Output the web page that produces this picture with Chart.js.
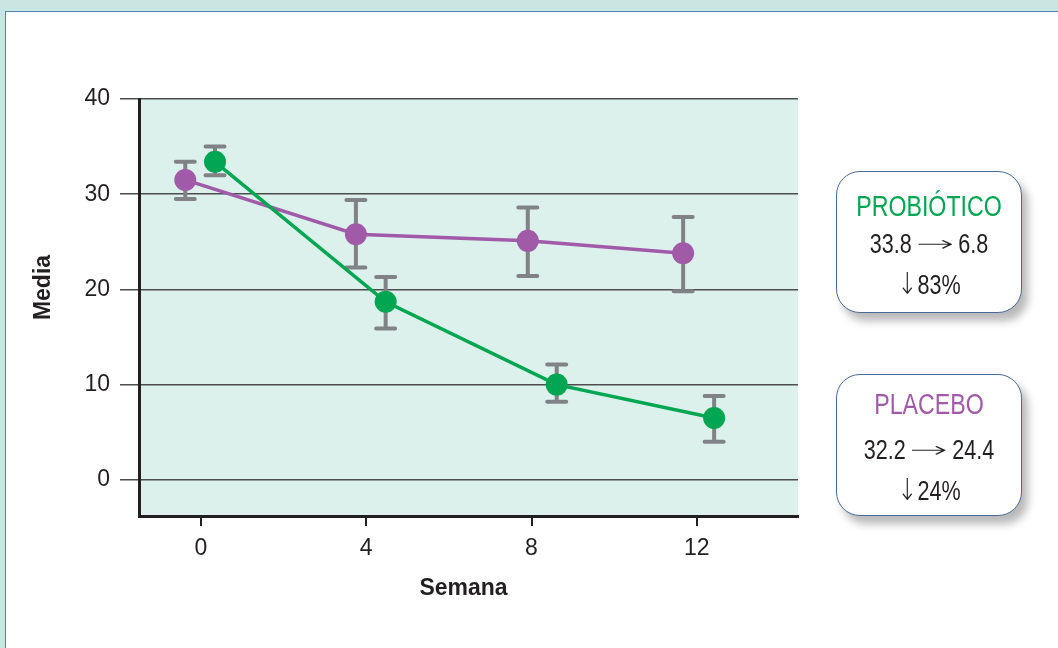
<!DOCTYPE html>
<html>
<head>
<meta charset="utf-8">
<script src="https://cdn.jsdelivr.net/npm/chart.js@4.4.1/dist/chart.umd.min.js"></script>
<style>
  body { margin: 0; background: #c9e6e3; width: 1058px; height: 648px; overflow: hidden; position: relative; }
  #panel { position: absolute; left: 5px; top: 11px; width: 1100px; height: 700px; background: #fff; border: 1.5px solid #5a7fa8; }
  #chartContainer { position: absolute; left: 0; top: 0; }
  .box { position: absolute; left: 836px; width: 186px; height: 142px; box-sizing: border-box;
         border: 1.5px solid #4a6b98; border-radius: 24px; background: #fff;
         box-shadow: 6px 8px 8px rgba(0,0,0,0.28); text-align: center; color: #231f20;
         font-family: "Liberation Sans", Arial, sans-serif; }
  .box div { transform: scaleX(0.8); white-space: nowrap; }
  .box .t { font-size: 29px; line-height: 38px; }
  .box .v { font-size: 27px; line-height: 38px; }
  .box .ar { display: inline-block; width: 58px; position: relative; top: -2px; font-family: "DejaVu Sans", sans-serif; font-weight: 200; font-size: 22px; transform: scaleX(2.6); }
  .box .dn { font-family: "DejaVu Sans", sans-serif; font-weight: 200; font-size: 30px; }
  #boxPro { top: 171px; padding-top: 15px; }
  #boxPla { top: 374px; padding-top: 10px; }
  #boxPro .t { color: #00a651; }
  #boxPla .t { color: #a05aa8; }
  #boxPla .v1 { margin-top: 8px; }
</style>
</head>
<body>
<div id="panel"></div>
<canvas id="chartContainer" width="1058" height="648"></canvas>
<div class="box" id="boxPro">
  <div class="t">PROBIÓTICO</div>
  <div class="v">33.8<span class="ar">→</span>6.8</div>
  <div class="v"><span class="dn">↓</span>83%</div>
</div>
<div class="box" id="boxPla">
  <div class="t">PLACEBO</div>
  <div class="v v1">32.2<span class="ar">→</span>24.4</div>
  <div class="v"><span class="dn">↓</span>24%</div>
</div>
<script>
// weeks shown on the x axis
var weekTicks = [0, 4, 8, 12];
var valueTicks = [0, 10, 20, 30, 40];

// probiotic group (green), points are drawn slightly right of each week
var probioticoX = [0.34, 4.47, 8.61, 12.42];
var probioticoMean = [33.4, 18.7, 10.0, 6.5];
var probioticoLow = [32.0, 15.9, 8.2, 4.0];
var probioticoHigh = [35.0, 21.3, 12.1, 8.8];

// placebo group (purple), points slightly left of each week
var placeboX = [-0.38, 3.75, 7.91, 11.67];
var placeboMean = [31.5, 25.8, 25.1, 23.8];
var placeboLow = [29.5, 22.3, 21.4, 19.8];
var placeboHigh = [33.4, 29.4, 28.6, 27.6];

function toPoints(xs, ys) {
  return xs.map(function (x, i) { return { x: x, y: ys[i] }; });
}

var textColor = '#231f20';
var tickFont = { family: '"Liberation Sans", Arial, sans-serif', size: 23 };

// plot background
var plotBackground = {
  id: 'plotBackground',
  beforeDraw: function (chart) {
    var a = chart.chartArea, ctx = chart.ctx;
    ctx.save();
    ctx.fillStyle = '#dcf0ec';
    ctx.fillRect(a.left, a.top, a.right - a.left, a.bottom - a.top);
    ctx.restore();
  }
};

// vertical error bars with caps, drawn under the points
var errorBars = {
  id: 'errorBars',
  beforeDatasetsDraw: function (chart) {
    var ctx = chart.ctx, xs = chart.scales.x, ys = chart.scales.y;
    ctx.save();
    ctx.strokeStyle = '#808285';
    ctx.lineWidth = 4;
    ctx.lineCap = 'round';
    chart.data.datasets.forEach(function (ds) {
      ds.data.forEach(function (p, i) {
        var px = xs.getPixelForValue(p.x);
        var top = ys.getPixelForValue(ds.errHigh[i]);
        var bot = ys.getPixelForValue(ds.errLow[i]);
        ctx.beginPath();
        ctx.moveTo(px, top); ctx.lineTo(px, bot);
        ctx.moveTo(px - 9.5, top); ctx.lineTo(px + 9.5, top);
        ctx.moveTo(px - 9.5, bot); ctx.lineTo(px + 9.5, bot);
        ctx.stroke();
      });
    });
    ctx.restore();
  }
};

// axis titles
var axisTitles = {
  id: 'axisTitles',
  afterDraw: function (chart) {
    var a = chart.chartArea, ctx = chart.ctx;
    ctx.save();
    ctx.fillStyle = textColor;
    ctx.font = 'bold 23px "Liberation Sans", Arial, sans-serif';
    ctx.textAlign = 'center';
    ctx.textBaseline = 'middle';
    ctx.fillText('Semana', (a.left + a.right) / 2 - 5, a.bottom + 73);
    ctx.translate(44, chart.scales.y.getPixelForValue(20.2));
    ctx.rotate(-Math.PI / 2);
    ctx.fillText('Media', 0, 0);
    ctx.restore();
  }
};

var ctx = document.getElementById('chartContainer').getContext('2d');

var chart = new Chart(ctx, {
  type: 'line',
  data: {
    datasets: [{
      label: 'PROBIÓTICO',
      data: toPoints(probioticoX, probioticoMean),
      errLow: probioticoLow,
      errHigh: probioticoHigh,
      borderColor: '#00a651',
      backgroundColor: '#00a651',
      borderWidth: 3.5,
      pointRadius: 11,
      pointBorderWidth: 0,
      pointHoverRadius: 11
    }, {
      label: 'PLACEBO',
      data: toPoints(placeboX, placeboMean),
      errLow: placeboLow,
      errHigh: placeboHigh,
      borderColor: '#a05aa8',
      backgroundColor: '#a05aa8',
      borderWidth: 3.5,
      pointRadius: 11,
      pointBorderWidth: 0,
      pointHoverRadius: 11
    }]
  },
  options: {
    responsive: false,
    animation: false,
    devicePixelRatio: 1,
    layout: { padding: { top: 99, right: 260, bottom: 0, left: 0 } },
    plugins: {
      legend: { display: false },
      tooltip: { enabled: false }
    },
    scales: {
      x: {
        type: 'linear',
        min: -1.5,
        max: 14.45,
        afterBuildTicks: function (scale) {
          scale.ticks = weekTicks.map(function (v) { return { value: v }; });
        },
        afterFit: function (scale) { scale.height = 132; },
        grid: { drawOnChartArea: false, drawTicks: true, tickLength: 10, color: textColor, lineWidth: 2 },
        border: { display: true, color: textColor, width: 3 },
        ticks: { color: textColor, font: tickFont, padding: 9, maxRotation: 0 }
      },
      y: {
        min: -3.8,
        max: 40,
        afterBuildTicks: function (scale) {
          scale.ticks = valueTicks.map(function (v) { return { value: v }; });
        },
        afterFit: function (scale) { scale.width = 139; },
        grid: { color: '#4d4d4d', lineWidth: 1.5, tickLength: 19, drawTicks: true },
        border: { display: true, color: textColor, width: 3 },
        ticks: { color: textColor, font: tickFont, padding: 10 }
      }
    }
  },
  plugins: [plotBackground, errorBars, axisTitles]
});
</script>
</body>
</html>
